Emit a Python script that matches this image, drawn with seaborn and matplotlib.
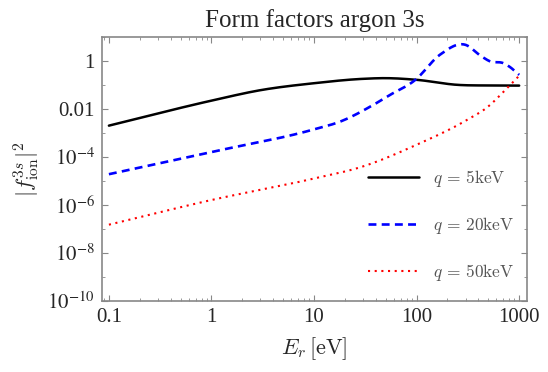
import numpy as np
import matplotlib
matplotlib.use('Agg')
import matplotlib.pyplot as plt
import matplotlib.ticker as mticker
import pandas as pd
import seaborn as sns

# values (E_r in eV, |f|^2)
e_5 = [0.1, 1, 3, 10, 30, 50, 100, 250, 500, 1000]
f_5 = [2.0e-3, 0.022, 0.06, 0.117, 0.178, 0.19, 0.162, 0.1, 0.094, 0.093]

e_20 = [0.1, 1, 10, 18, 38, 55, 97, 169, 297, 432, 521, 700, 800, 1000]
f_20 = [1.9e-5, 1.6e-4, 1.4e-3, 2.95e-3, 0.0148, 0.038, 0.16, 1.8, 4.7, 1.5, 0.95, 0.8, 0.58, 0.26]

e_50 = [0.1, 1, 10, 30, 100, 300, 500, 700, 1000]
f_50 = [1.5e-7, 1.6e-6, 1.26e-5, 4.0e-5, 3.2e-4, 3.2e-3, 0.0126, 0.05, 0.24]

labels = ['$q\\,=\\,5\\mathrm{keV}$', '$q\\,=\\,20\\mathrm{keV}$', '$q\\,=\\,50\\mathrm{keV}$']


def smooth(e, f, n=400):
    # cubic hermite through the read points, in log-log space
    lx = np.log10(e)
    ly = np.log10(f)
    m = np.gradient(ly, lx)
    xs = np.linspace(lx[0], lx[-1], n)
    idx = np.clip(np.searchsorted(lx, xs) - 1, 0, len(lx) - 2)
    h = lx[idx + 1] - lx[idx]
    t = (xs - lx[idx]) / h
    h00 = 2 * t**3 - 3 * t**2 + 1
    h10 = t**3 - 2 * t**2 + t
    h01 = -2 * t**3 + 3 * t**2
    h11 = t**3 - t**2
    ys = h00 * ly[idx] + h10 * h * m[idx] + h01 * ly[idx + 1] + h11 * h * m[idx + 1]
    return 10 ** xs, 10 ** ys


sns.set_style('ticks')
plt.rcParams['font.family'] = ['Liberation Serif', 'DejaVu Serif']
plt.rcParams['mathtext.fontset'] = 'cm'

fig = plt.figure(figsize=(5.48, 3.72), dpi=100)
ax = fig.add_axes([0.186, 0.191, 0.776, 0.710])

styles = [('black', '-', 1.8), ('blue', (0, (3, 2)), 1.9), ('red', (0, (1, 2.2)), 1.5)]
for (e, f), lab, (c, ls, lw) in zip([(e_5, f_5), (e_20, f_20), (e_50, f_50)], labels, styles):
    x, y = smooth(e, f)
    df = pd.DataFrame({'E': x, 'f': y})
    sns.lineplot(x='E', y='f', data=df, ax=ax, color=c, lw=lw, linestyle=ls, label=lab)

ax.set_xscale('log')
ax.set_yscale('log')
ax.set_xlim(0.0855, 1197)
ax.set_ylim(1e-10, 10)

ax.yaxis.set_major_locator(mticker.FixedLocator([1e-10, 1e-8, 1e-6, 1e-4, 1e-2, 1]))
ax.yaxis.set_minor_locator(mticker.FixedLocator([1e-9, 1e-7, 1e-5, 1e-3, 1e-1, 10]))
ax.yaxis.set_minor_formatter(mticker.NullFormatter())
ax.set_yticklabels(['$10^{-10}$', '$10^{-8}$', '$10^{-6}$', '$10^{-4}$', '0.01', '1'],
                   math_fontfamily='stix')
ax.xaxis.set_major_locator(mticker.FixedLocator([0.1, 1, 10, 100, 1000]))
ax.set_xticklabels(['0.1', '1', '10', '100', '1000'])
ax.xaxis.set_minor_locator(mticker.LogLocator(base=10, subs=np.arange(2, 10), numticks=20))
ax.xaxis.set_minor_formatter(mticker.NullFormatter())

ax.tick_params(which='both', direction='in', top=True, right=True, color='#888888', labelsize=15)
ax.tick_params(which='major', length=4.5, pad=5)
ax.tick_params(which='minor', length=2.5)
for s in ax.spines.values():
    s.set_color('#888888')
    s.set_linewidth(1.2)

ax.set_title('Form factors argon 3s', fontsize=18, pad=7)
ax.set_xlabel('$E_r\\,[\\mathrm{eV}]$', fontsize=16, labelpad=6)
ax.set_ylabel('$|f_{\\mathrm{ion}}^{3s}|^2$', fontsize=16, labelpad=4)

plt.legend(loc='upper left', bbox_to_anchor=(0.626, 0.504), frameon=False, fontsize=12.5,
           handlelength=2.95, handletextpad=0.8, labelspacing=1.5, borderpad=0,
           borderaxespad=0, labelcolor='#555555')
plt.savefig('out.png', dpi=100)
